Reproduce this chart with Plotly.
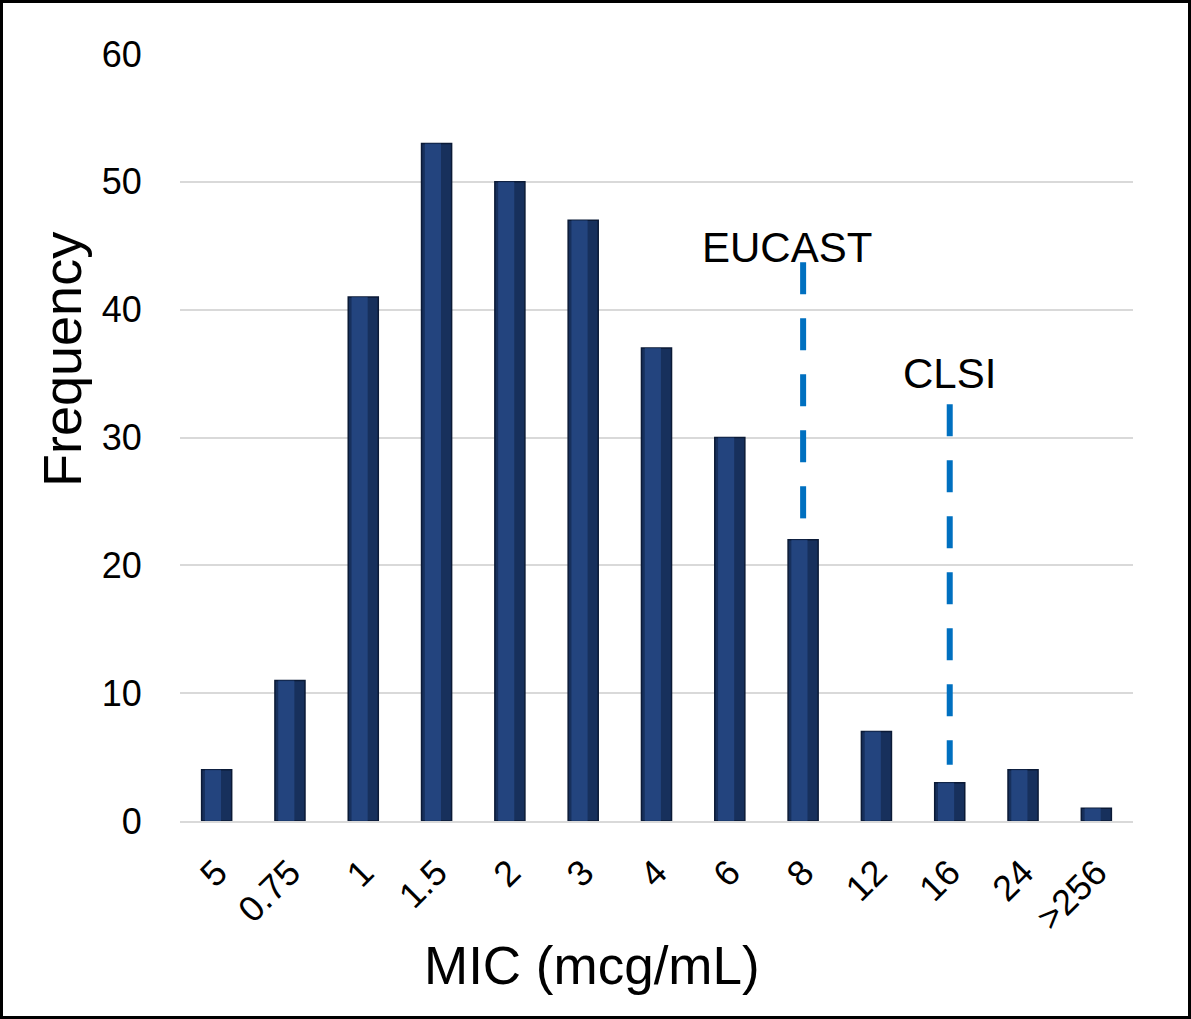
import plotly.graph_objects as go

categories = ["5", "0.75", "1", "1.5", "2", "3", "4", "6", "8", "12", "16", "24", ">256"]
frequency = [4, 11, 41, 53, 50, 47, 37, 30, 22, 7, 3, 4, 1]

breakpoint_names = ["EUCAST", "CLSI"]
breakpoint_cats = ["8", "16"]
breakpoint_top = [43.7, 32.6]
breakpoint_bottom = [23.6, 4.4]
label_y = [44.9, 35.0]
label_shift = [-16, 0]

x_title = "MIC (mcg/mL)"
y_title = "Frequency"

W, H = 1191, 1019
ml, mr, mt, mb = 180, 58, 54, 198
pw = W - ml - mr
ph = H - mt - mb

fig = go.Figure()
fig.add_trace(go.Bar(
    x=categories, y=frequency,
    marker=dict(color="#17305c", line=dict(color="#0b1a36", width=1.5)),
    showlegend=False, hoverinfo="x+y",
))
# lighter inner highlight to suggest bevel
fig.add_trace(go.Bar(
    x=categories, y=frequency,
    width=0.22, offset=-0.16,
    marker=dict(color="rgba(45,85,155,0.55)", line=dict(width=0)),
    showlegend=False, hoverinfo="skip",
))

for name, cat, top, bot, ly, sh in zip(breakpoint_names, breakpoint_cats, breakpoint_top,
                                       breakpoint_bottom, label_y, label_shift):
    fig.add_trace(go.Scatter(
        x=[cat, cat], y=[top, bot], mode="lines",
        line=dict(color="#0070C0", width=6, dash="32px,24px"),
        showlegend=False, hoverinfo="skip",
    ))
    fig.add_annotation(x=categories.index(cat), y=ly, text=name, showarrow=False,
                       xshift=sh, font=dict(size=42, color="black"), yanchor="middle")

# axis titles placed as in the reference (off-centre)
fig.add_annotation(xref="paper", yref="paper", x=(592 - ml) / pw, y=(821 - 965) / ph,
                   text=x_title, showarrow=False, font=dict(size=53, color="black"),
                   xanchor="center", yanchor="middle")
fig.add_annotation(xref="paper", yref="paper", x=(62 - ml) / pw, y=(821 - 360) / ph,
                   text=y_title, showarrow=False, textangle=-90,
                   font=dict(size=54, color="black"),
                   xanchor="center", yanchor="middle")

fig.add_shape(type="rect", xref="paper", yref="paper",
              x0=(-ml + 1.5) / pw, x1=1 + (mr - 1.5) / pw,
              y0=(-mb + 1.5) / ph, y1=1 + (mt - 1.5) / ph,
              line=dict(color="black", width=3), layer="above")

fig.update_layout(
    width=W, height=H,
    margin=dict(l=ml, r=mr, t=mt, b=mb),
    paper_bgcolor="white", plot_bgcolor="white",
    barmode="overlay", bargap=0.59,
    font=dict(family="Liberation Sans, Arial, sans-serif", color="black"),
)
fig.update_xaxes(
    type="category", range=[-0.5, len(categories) - 0.5],
    tickangle=-45, tickfont=dict(size=36),
    ticks="outside", ticklen=14, tickcolor="rgba(0,0,0,0)",
    showline=True, linecolor="#d9d9d9", linewidth=2, showgrid=False,
)
fig.update_yaxes(
    range=[0, 60], dtick=10, tickfont=dict(size=36),
    ticks="outside", ticklen=30, tickcolor="rgba(0,0,0,0)",
    showgrid=True, gridcolor="#d9d9d9", gridwidth=1.5, zeroline=False,
)

fig.write_html("out.html")
